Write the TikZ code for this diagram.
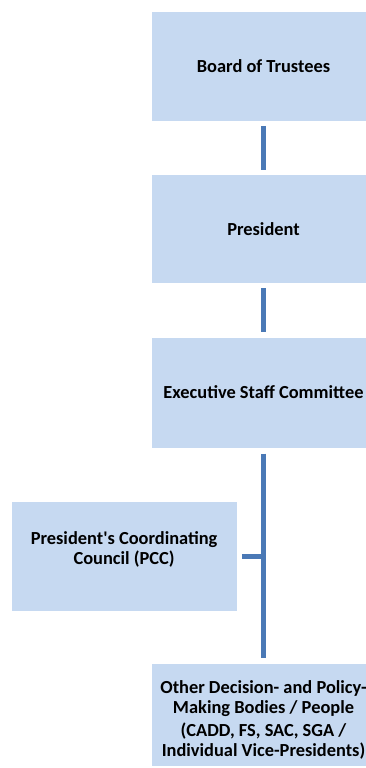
\documentclass[tikz,border=0pt]{standalone}
\usepackage{fontspec}
\setmainfont{Carlito}
\usetikzlibrary{positioning}
\definecolor{boxblue}{HTML}{C6D9F1}
\definecolor{lineblue}{HTML}{4A79B6}
\tikzstyle{rec} = [rectangle, minimum width=224pt, minimum height=109pt, text centered, align=center, inner sep=0pt, fill=boxblue]
\tikzstyle{link} = [line width=5pt, draw=lineblue]

\begin{document}
\begin{tikzpicture}[x=1pt, y=1pt, node distance=54pt, font=\bfseries\fontsize{18.4}{20}\selectfont]
				\useasboundingbox (0,0) rectangle (366,-768);
				\node (board_of_trustees) [rec] at (263.5,-66.2) {Board of Trustees};
				\node (president) [rec, minimum height=108pt, below=of board_of_trustees] {President};
				\draw [link] ([yshift=-5pt]board_of_trustees.south) -- ([yshift=5pt]president.north);
				\node (executive_staff) [rec, minimum height=110pt, below=of president] {Executive Staff Committee};
				\draw [link] ([yshift=-5pt]president.south) -- ([yshift=5pt]executive_staff.north);
				\node (coordinating_council) [rec, minimum width=225pt, below left=54pt and -85.5pt of executive_staff] {President\textquotesingle s Coordinating\\Council (PCC)\rule[-16pt]{0pt}{0pt}};
				\node (other_bodies) [rec, minimum height=102pt, below=216pt of executive_staff] {\rule{0pt}{22pt}Other Decision- and Policy-\\Making Bodies / People\\[3pt](CADD, FS, SAC, SGA /\\Individual Vice-Presidents)};
				\coordinate (council_joint) at (coordinating_council.east -| executive_staff.south);
				\draw [link] ([yshift=-6pt]executive_staff.south) -- ([yshift=6pt]other_bodies.north);
				\draw [link] ([xshift=5pt]coordinating_council.east) -- (council_joint);
			\end{tikzpicture}
\end{document}
